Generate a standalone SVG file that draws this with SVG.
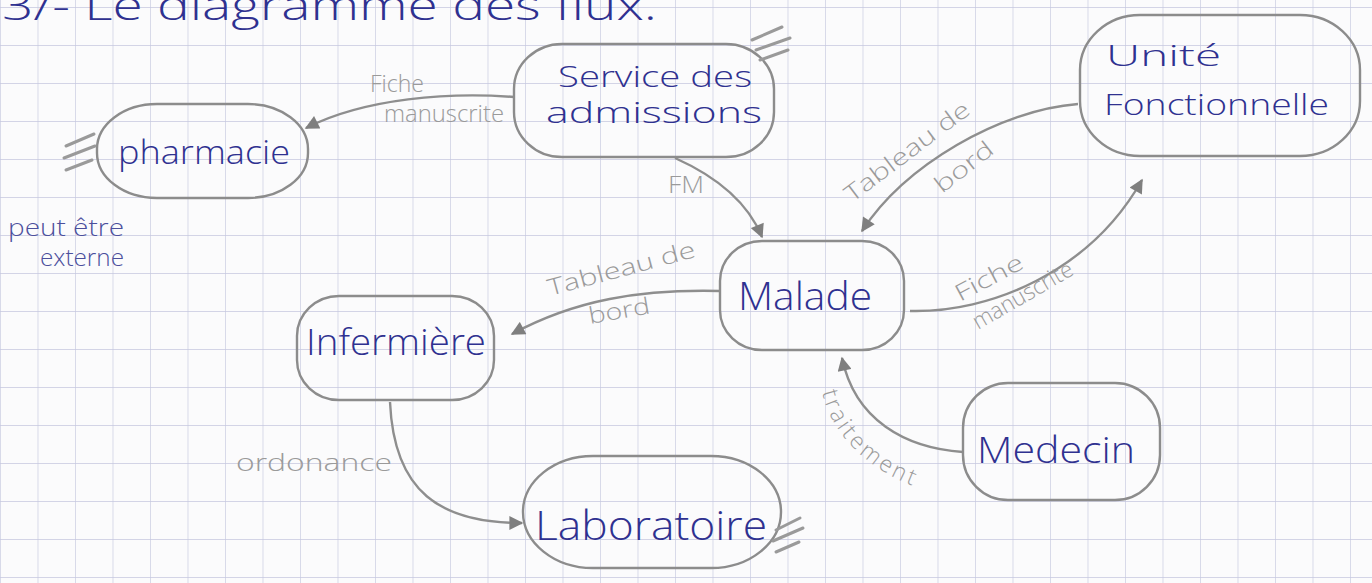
<svg xmlns="http://www.w3.org/2000/svg" width="1372" height="583" viewBox="0 0 1372 583">
<style>
.box{fill:none;stroke:#8c8c8c;stroke-width:2.4}
.conn{fill:none;stroke:#8e8e8e;stroke-width:2.4;marker-end:url(#ah)}
.hash{fill:none;stroke:#9a9a9a;stroke-width:3;stroke-linecap:round}
.lbl{font-family:"Open Sans","DejaVu Sans",sans-serif;font-weight:300;fill:#2f3190}
.cl{font-family:"Open Sans","DejaVu Sans",sans-serif;font-weight:300;fill:#9a9a9a;font-size:23px}
.note{font-family:"Open Sans","DejaVu Sans",sans-serif;font-weight:300;fill:#4b4f9c;font-size:23px}
</style>
<defs>
<pattern id="grid" x="0" y="7" width="37.5" height="38" patternUnits="userSpaceOnUse">
<path d="M0 0 H37.5 M0 0 V38" fill="none" stroke="#c6c8e0" stroke-width="1.3"/>
</pattern>
<marker id="ah" viewBox="0 0 10 10" refX="9" refY="5" markerWidth="15" markerHeight="14" markerUnits="userSpaceOnUse" orient="auto">
<path d="M0,0 L10,5 L0,10 z" fill="#7f7f7f"/>
</marker>
</defs>
<rect width="1372" height="583" fill="#fbfbfc"/>
<rect width="1372" height="583" fill="url(#grid)"/>

<text class="lbl" x="2" y="20" font-size="40" textLength="655" lengthAdjust="spacingAndGlyphs">3/- Le diagramme des flux.</text>

<g id="connectors">
<path id="c1" class="conn" d="M514,97 C450,92 365,98 306,128"/>
<text class="cl" x="370" y="92" textLength="54" lengthAdjust="spacingAndGlyphs">Fiche</text>
<text class="cl" x="384" y="122" textLength="120" lengthAdjust="spacingAndGlyphs">manuscrite</text>

<path id="c2" class="conn" d="M675,158 Q742,188 762,237"/>
<text class="cl" x="668" y="193" textLength="36" lengthAdjust="spacingAndGlyphs">FM</text>

<path id="c3" class="conn" d="M1078,104 C1000,110 905,165 862,231"/>
<text class="cl" font-size="25" transform="translate(852,203) rotate(-37)" textLength="150" lengthAdjust="spacingAndGlyphs">Tableau de</text>
<text class="cl" font-size="25" transform="translate(942,194) rotate(-38)" textLength="68" lengthAdjust="spacingAndGlyphs">bord</text>

<path id="c4" class="conn" d="M910,311 C990,313 1090,272 1142,180"/>
<text class="cl" font-size="25" transform="translate(960,302) rotate(-28)" textLength="74" lengthAdjust="spacingAndGlyphs">Fiche</text>
<text class="cl" transform="translate(978,330) rotate(-30)" textLength="112" lengthAdjust="spacingAndGlyphs">manuscrite</text>

<path id="c5" class="conn" d="M720,291 C640,289 575,300 512,334"/>
<text class="cl" font-size="25" transform="translate(550,296) rotate(-15)" textLength="152" lengthAdjust="spacingAndGlyphs">Tableau de</text>
<text class="cl" font-size="25" transform="translate(590,324) rotate(-10)" textLength="62" lengthAdjust="spacingAndGlyphs">bord</text>

<path id="c6" class="conn" d="M963,452 C905,448 855,420 842,358"/>
<path id="tp" d="M822,392 C834,446 888,488 966,500" fill="none"/>
<text class="cl" font-size="26" letter-spacing="3"><textPath href="#tp">traitement</textPath></text>

<path id="c7" class="conn" d="M390,402 C394,492 440,523 522,523"/>
<text class="cl" x="236" y="471" textLength="156" lengthAdjust="spacingAndGlyphs">ordonance</text>
</g>

<g id="service">
<rect class="box" x="514" y="44" width="260" height="113" rx="48" ry="45"/>
<path class="hash" d="M752,40 L782,27 M756,50 L790,38 M760,60 L788,50"/>
<text class="lbl" x="558" y="87" font-size="29" textLength="194" lengthAdjust="spacingAndGlyphs">Service des</text>
<text class="lbl" x="546" y="123" font-size="29" textLength="216" lengthAdjust="spacingAndGlyphs">admissions</text>
</g>

<g id="pharmacie">
<rect class="box" x="97" y="104" width="211" height="94" rx="60" ry="45"/>
<path class="hash" d="M66,146 L94,134 M64,158 L95,146 M66,170 L92,160"/>
<text class="lbl" x="118" y="164" font-size="33" textLength="172" lengthAdjust="spacingAndGlyphs">pharmacie</text>
</g>

<g id="note">
<text class="note" x="8" y="236" textLength="116" lengthAdjust="spacingAndGlyphs">peut être</text>
<text class="note" x="40" y="266" textLength="84" lengthAdjust="spacingAndGlyphs">externe</text>
</g>

<g id="unite">
<rect class="box" x="1080" y="15" width="280" height="141" rx="60" ry="55"/>
<text class="lbl" x="1106" y="66" font-size="30" textLength="115" lengthAdjust="spacingAndGlyphs">Unité</text>
<text class="lbl" x="1104" y="115" font-size="30" textLength="225" lengthAdjust="spacingAndGlyphs">Fonctionnelle</text>
</g>

<g id="malade">
<rect class="box" x="720" y="241" width="184" height="109" rx="42" ry="40"/>
<text class="lbl" x="738" y="310" font-size="38" textLength="134" lengthAdjust="spacingAndGlyphs">Malade</text>
</g>

<g id="infermiere">
<rect class="box" x="297" y="296" width="197" height="104" rx="42" ry="40"/>
<text class="lbl" x="306" y="355" font-size="36" textLength="180" lengthAdjust="spacingAndGlyphs">Infermière</text>
</g>

<g id="laboratoire">
<rect class="box" x="523" y="456" width="258" height="112" rx="70" ry="56"/>
<path class="hash" d="M776,530 L800,518 M773,541 L803,528 M776,552 L799,542"/>
<text class="lbl" x="535" y="540" font-size="40" textLength="232" lengthAdjust="spacingAndGlyphs">Laboratoire</text>
</g>

<g id="medecin">
<rect class="box" x="963" y="383" width="197" height="117" rx="45" ry="45"/>
<text class="lbl" x="977" y="463" font-size="36" textLength="158" lengthAdjust="spacingAndGlyphs">Medecin</text>
</g>
</svg>
